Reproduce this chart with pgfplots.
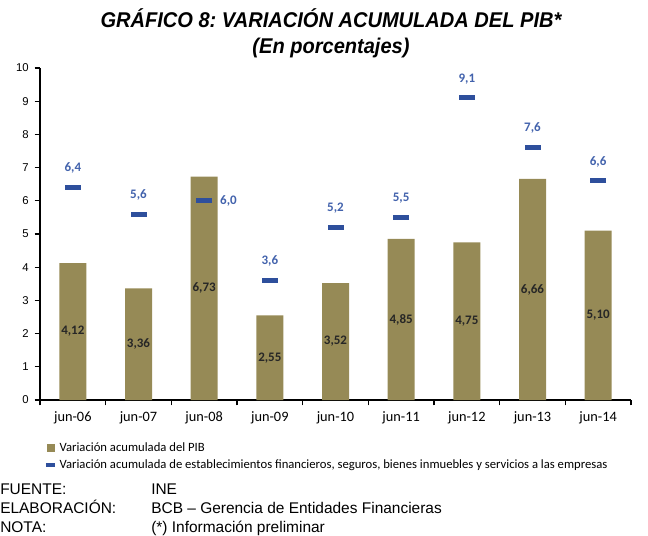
\documentclass[border=0pt]{standalone}
\usepackage{pgfplots}
\pgfplotsset{compat=1.18}
\usepackage{pgfplotstable}
\usepackage{fontspec}
\setmainfont{Liberation Sans}
\newfontfamily\calibri{Carlito}
\newfontfamily\titlefont[FakeStretch=0.94]{Liberation Sans}
\definecolor{pibolive}{HTML}{968A56}
\definecolor{finblue}{HTML}{2E4F9C}
\definecolor{lblblue}{HTML}{4262AC}
\frenchspacing

% x = category index, pib = PIB bar, fin = financial sector marker
\pgfplotstableread{
x cat    pib  piblab fin finlab
0 jun-06 4.12 4,12   6.4 6,4
1 jun-07 3.36 3,36   5.6 5,6
2 jun-08 6.73 6,73   6.0 6,0
3 jun-09 2.55 2,55   3.6 3,6
4 jun-10 3.52 3,52   5.2 5,2
5 jun-11 4.85 4,85   5.5 5,5
6 jun-12 4.75 4,75   9.1 9,1
7 jun-13 6.66 6,66   7.6 7,6
8 jun-14 5.10 5,10   6.6 6,6
}\datatable

\begin{document}
\begin{tikzpicture}
\useasboundingbox (-30pt,-101.25pt) rectangle (456pt,300pt);
\begin{axis}[
  scale only axis,
  width=443.25pt, height=249pt,
  xmin=-0.5, xmax=8.5, ymin=0, ymax=10,
  axis x line*=bottom, axis y line*=left,
  axis line style={line width=1.1pt, black, -},
  tick align=outside,
  major tick length=4pt,
  tick style={line width=1pt, black},
  ytick={0,...,10},
  xtick={-0.5,0.5,...,8.5},
  xticklabels={},
  extra x ticks={0,...,8},
  extra x tick labels={jun-06,jun-07,jun-08,jun-09,jun-10,jun-11,jun-12,jun-13,jun-14},
  extra x tick style={tick style={draw=none}},
  x tick label style={font=\calibri\fontsize{10.75}{12}\selectfont, yshift=-1.5pt},
  y tick label style={font=\fontsize{8.5}{10}\selectfont, xshift=-1pt},
  /pgf/number format/assume math mode=true,
  clip=false,
  legend style={at={(axis description cs:0,0)}, anchor=north west,
    xshift=3pt, yshift=-29.5pt, draw=none, fill=none,
    font=\calibri\fontsize{9.5}{11}\selectfont, inner sep=0pt, row sep=1pt},
  legend cell align=left,
]
\addplot[ybar, bar width=20.25pt, fill=pibolive, draw=none,
  legend image code/.code={\fill[pibolive] (0pt,-3pt) rectangle (6pt,3pt);}]
  table[x=x, y=pib] {\datatable};
\addlegendentry{Variación acumulada del PIB}
\addplot[only marks, mark=-, mark size=6pt,
  mark options={line width=3.75pt, finblue},
  legend image code/.code={\draw[finblue, line width=2.5pt] (-0.5pt,0pt) -- (6.5pt,0pt);}]
  table[x=x, y=fin] {\datatable};
\addlegendentry{Variación acumulada de establecimientos financieros, seguros, bienes inmuebles y servicios a las empresas}
% value labels inside the bars
\addplot[draw=none, forget plot, nodes near coords, point meta=explicit symbolic,
  every node near coord/.append style={anchor=center, text=black!85,
    font=\calibri\bfseries\fontsize{9.75}{11}\selectfont}]
  table[x=x, y expr=\thisrow{pib}/2, meta=piblab] {\datatable};
% labels above the markers
\addplot[draw=none, forget plot, nodes near coords, point meta=explicit symbolic,
  skip coords between index={2}{3},
  every node near coord/.append style={anchor=south, yshift=7pt, text=lblblue,
    font=\calibri\bfseries\fontsize{9.75}{11}\selectfont}]
  table[x=x, y=fin, meta=finlab] {\datatable};
\addplot[draw=none, forget plot, nodes near coords, point meta=explicit symbolic,
  restrict x to domain=1.5:2.5,
  every node near coord/.append style={anchor=west, xshift=8.5pt, text=lblblue,
    font=\calibri\bfseries\fontsize{9.75}{11}\selectfont}]
  table[x=x, y=fin, meta=finlab] {\datatable};
\end{axis}
\node[anchor=base, font=\titlefont\bfseries\itshape\fontsize{16}{19}\selectfont] at (218.25pt,279pt)
  {GRÁFICO 8: VARIACIÓN ACUMULADA DEL PIB*};
\node[anchor=base, font=\titlefont\bfseries\itshape\fontsize{16}{19}\selectfont] at (218.25pt,260pt)
  {(En porcentajes)};
\begin{scope}[every node/.style={anchor=base west, inner sep=0pt, font=\fontsize{11.6}{13}\selectfont}]
\node at (-30pt,-70.5pt) {FUENTE:};
\node at (83.25pt,-70.5pt) {INE};
\node at (-30pt,-84.75pt) {ELABORACIÓN:};
\node at (83.25pt,-84.75pt) {BCB – Gerencia de Entidades Financieras};
\node at (-30pt,-99pt) {NOTA:};
\node at (83.25pt,-99pt) {(*) Información preliminar};
\end{scope}
\end{tikzpicture}
\end{document}
